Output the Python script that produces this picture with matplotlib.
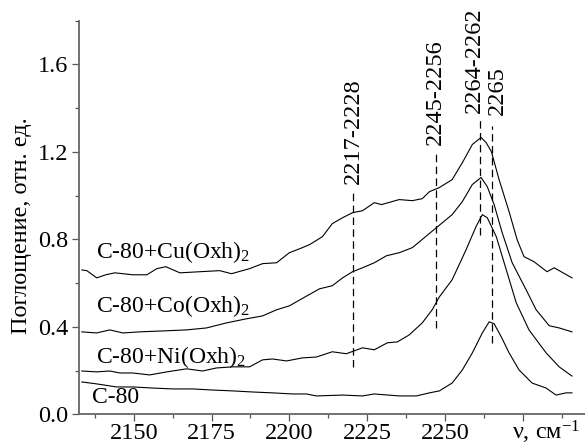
import numpy as np
import matplotlib
matplotlib.use('Agg')
import matplotlib.pyplot as plt
from matplotlib.ticker import MultipleLocator, FixedLocator

plt.rcParams['font.family'] = ['Liberation Serif', 'DejaVu Serif']
plt.rcParams['mathtext.fontset'] = 'custom'
plt.rcParams['mathtext.rm'] = 'Liberation Serif'
plt.rcParams['mathtext.it'] = 'Liberation Serif:italic'

# spectra (wavenumber, absorbance)
cu_x = [2133.3, 2134.9, 2138.1, 2141.0, 2143.9, 2149.7, 2154.2, 2157.4, 2160.3, 2164.8,
        2171.2, 2177.6, 2181.4, 2187.2, 2191.4, 2195.9, 2200.0, 2203.3, 2206.5, 2210.6,
        2213.8, 2217.1, 2220.3, 2223.5, 2227.3, 2229.6, 2235.3, 2239.5, 2242.7, 2245.0,
        2248.2, 2252.3, 2255.6, 2258.8, 2261.6, 2263.2, 2264.9, 2267.4, 2270.6, 2273.2,
        2275.4, 2278.6, 2282.8, 2285.1, 2290.8]
cu_y = [0.660, 0.657, 0.624, 0.638, 0.647, 0.638, 0.638, 0.666, 0.675, 0.647,
        0.652, 0.657, 0.643, 0.666, 0.689, 0.693, 0.739, 0.757, 0.776, 0.812,
        0.872, 0.899, 0.922, 0.931, 0.968, 0.959, 0.982, 0.977, 0.986, 1.018,
        1.037, 1.073, 1.151, 1.234, 1.266, 1.243, 1.202, 1.073, 0.927, 0.798,
        0.721, 0.698, 0.652, 0.670, 0.624]

co_x = [2133.3, 2138.1, 2142.3, 2146.5, 2151.9, 2160.6, 2167.0, 2173.4, 2179.8, 2186.3,
        2191.4, 2195.9, 2200.0, 2204.2, 2209.7, 2213.8, 2217.1, 2220.3, 2223.5, 2227.3,
        2231.2, 2235.3, 2239.5, 2243.4, 2247.2, 2252.3, 2255.6, 2258.8, 2261.6, 2263.6,
        2265.8, 2268.4, 2271.6, 2276.1, 2279.3, 2283.5, 2286.7, 2290.8]
co_y = [0.377, 0.372, 0.386, 0.372, 0.377, 0.382, 0.386, 0.395, 0.418, 0.437,
        0.450, 0.478, 0.496, 0.530, 0.574, 0.588, 0.624, 0.652, 0.670, 0.693,
        0.725, 0.739, 0.762, 0.808, 0.853, 0.913, 0.973, 1.051, 1.083, 1.041,
        0.959, 0.830, 0.693, 0.569, 0.478, 0.405, 0.395, 0.377]

ni_x = [2133.3, 2138.1, 2142.3, 2145.5, 2149.7, 2155.1, 2160.6, 2167.0, 2172.1, 2176.6,
        2181.8, 2187.2, 2191.4, 2194.6, 2199.1, 2204.2, 2208.7, 2213.8, 2218.3, 2223.5,
        2227.3, 2231.5, 2234.7, 2238.5, 2242.7, 2245.9, 2248.2, 2252.3, 2256.8, 2260.0,
        2262.0, 2263.6, 2266.5, 2269.7, 2272.9, 2277.0, 2282.5, 2286.7, 2290.8]
ni_y = [0.198, 0.194, 0.198, 0.189, 0.189, 0.180, 0.194, 0.208, 0.198, 0.212,
        0.217, 0.217, 0.249, 0.253, 0.244, 0.258, 0.262, 0.286, 0.277, 0.304,
        0.295, 0.327, 0.331, 0.363, 0.418, 0.478, 0.537, 0.615, 0.753, 0.859,
        0.913, 0.899, 0.812, 0.661, 0.510, 0.386, 0.281, 0.217, 0.175]

c80_x = [2133.3, 2138.1, 2144.5, 2149.7, 2156.1, 2162.5, 2168.9, 2175.3, 2181.8, 2188.2,
         2194.6, 2201.0, 2205.5, 2208.7, 2217.1, 2223.5, 2227.3, 2235.3, 2240.8, 2245.0,
         2248.2, 2252.3, 2255.6, 2258.8, 2262.0, 2264.2, 2265.8, 2268.1, 2270.6, 2273.8,
         2278.0, 2282.5, 2285.7, 2288.9, 2290.8]
c80_y = [0.148, 0.139, 0.125, 0.125, 0.120, 0.116, 0.116, 0.111, 0.107, 0.102,
         0.098, 0.093, 0.093, 0.084, 0.088, 0.084, 0.093, 0.084, 0.084, 0.098,
         0.107, 0.143, 0.203, 0.281, 0.372, 0.423, 0.414, 0.354, 0.281, 0.203,
         0.143, 0.120, 0.088, 0.098, 0.098]

curve_labels = ['C-80+Cu(Oxh)$_2$', 'C-80+Co(Oxh)$_2$', 'C-80+Ni(Oxh)$_2$', 'C-80']
label_x = [2137.8, 2137.8, 2137.8, 2136.5]
label_y = [0.740, 0.494, 0.262, 0.075]

# dashed band markers
band_names = ['2217-2228', '2245-2256', '2264-2262', '2265']
band_x = [2220.3, 2247.0, 2261.1, 2265.0]
band_lo = [0.215, 0.394, 0.82, 0.325]
band_hi = [1.017, 1.20, 1.35, 1.32]
band_text_x = [2220.6, 2247.0, 2259.4, 2267.0]
band_text_y = [1.055, 1.232, 1.378, 1.370]

fig = plt.figure(figsize=(5.85, 4.45), dpi=100)
ax = fig.add_axes([79 / 585, 1 - 414.3 / 445, (585 - 79) / 585, (414.3 - 20.7) / 445])

for xs, ys in [(cu_x, cu_y), (co_x, co_y), (ni_x, ni_y), (c80_x, c80_y)]:
    ax.plot(xs, ys, color='black', lw=0.8)

for lx, ly, t in zip(label_x, label_y, curve_labels):
    ax.text(lx, ly, t, fontsize=17, va='center', ha='left')

for bx, lo, hi in zip(band_x, band_lo, band_hi):
    ax.plot([bx, bx], [lo, hi], color='black', lw=0.9, linestyle=(0, (6, 3.5)))
for tx, ty, t in zip(band_text_x, band_text_y, band_names):
    ax.text(tx, ty, t, rotation=90, fontsize=17.5, ha='center', va='bottom')

ax.set_xlim(2132.4, 2295)
ax.set_ylim(0, 1.8)
ax.xaxis.set_major_locator(FixedLocator([2150, 2175, 2200, 2225, 2250, 2275]))
ax.xaxis.set_minor_locator(MultipleLocator(12.5))
ax.yaxis.set_major_locator(FixedLocator([0.0, 0.4, 0.8, 1.2, 1.6]))
ax.yaxis.set_minor_locator(MultipleLocator(0.2))
ax.set_xticklabels(['2150', '2175', '2200', '2225', '2250', ''])
ax.set_yticklabels(['0.0', '0.4', '0.8', '1.2', '1.6'])
ax.tick_params(which='major', length=5, width=0.9, labelsize=17.5, pad=2.5, color='#555555')
ax.tick_params(axis='x', which='major', pad=1.5)
ax.tick_params(which='minor', length=3, width=0.9, color='#555555')

for s in ['top', 'right']:
    ax.spines[s].set_visible(False)
for s in ['left', 'bottom']:
    ax.spines[s].set_color('#666666')
    ax.spines[s].set_linewidth(1.3)

ax.annotate('ν, см$^{-1}$', xy=(2282.5, 0), xycoords=('data', 'axes fraction'),
            xytext=(0, -18.5), textcoords='offset points', ha='center', va='baseline',
            fontsize=17.5, annotation_clip=False)

fig.text(22 / 585, 1 - 226 / 445, 'Поглощение, отн. ед.', rotation=90,
         ha='center', va='center', fontsize=17.5)

fig.savefig('out.png', dpi=100)
